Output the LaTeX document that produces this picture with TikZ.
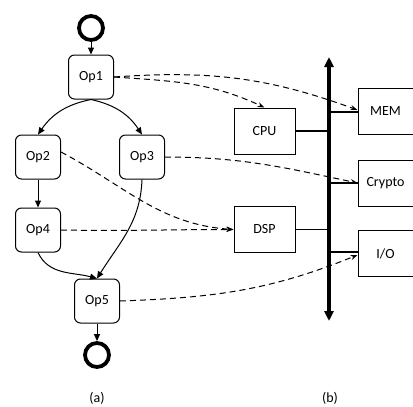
\documentclass[tikz,border=0pt]{standalone}
\usepackage{fontspec}
\setmainfont{Carlito}
\usetikzlibrary{arrows.meta}
\begin{document}
\begin{tikzpicture}[x=1pt,y=-1pt,
  op/.style={draw,line width=1pt,rounded corners=6pt,minimum width=45pt,minimum height=44pt,inner sep=0pt,font=\fontsize{14}{16}\selectfont},
  unit/.style={draw,line width=1pt,minimum height=46pt,inner sep=0pt,font=\fontsize{14}{16}\selectfont},
  term/.style={circle,draw,line width=3.8pt,minimum size=24pt,inner sep=0pt},
  flow/.style={-{Triangle[length=7pt,width=6pt]},line width=1pt},
  map/.style={-{Stealth[length=7pt,width=5pt]},dashed,dash pattern=on 6pt off 4pt,line width=1pt}]
\useasboundingbox (0,0) rectangle (413,407);
% task graph
\node[term] (start) at (91,28) {};
\node[op] (op1) at (91,77) {Op1};
\node[op] (op2) at (38,157) {Op2};
\node[op] (op3) at (142,157) {Op3};
\node[op] (op4) at (38,230) {Op4};
\node[op] (op5) at (97,301) {Op5};
\node[term] (stop) at (97,355) {};
\draw[flow] (start) -- (op1);
\draw[flow] (op1.south) to[bend right=22] (op2.north);
\draw[flow] (op1.south) to[bend left=22] (op3.north);
\draw[flow] (op2) -- (op4);
\draw[flow] (op4.south) to[out=-65,in=165] (op5.north);
\draw[flow] (op3.south) to[out=-92,in=58] (op5.north);
\draw[flow] (op5) -- (stop);
% platform
\node[unit,minimum width=61pt] (cpu) at (264.5,131) {CPU};
\node[unit,minimum width=61pt] (dsp) at (264.5,229.5) {DSP};
\node[unit,minimum width=55pt] (mem) at (385.5,111) {MEM};
\node[unit,minimum width=55pt] (crypto) at (385.5,183) {Crypto};
\node[unit,minimum width=55pt] (io) at (385.5,253.5) {I/O};
\coordinate (bustop) at (329,57);
\coordinate (busbot) at (329,321);
\draw[{Triangle[length=10pt,width=9pt]}-{Triangle[length=10pt,width=9pt]},line width=3.8pt] (bustop) -- (busbot);
\draw[line width=1.5pt] (cpu.east) -- (cpu.east -| bustop);
\draw[line width=1.5pt] (dsp.east) -- (dsp.east -| bustop);
\foreach \u/\y in {mem/112, crypto/183, io/252}
  \draw[line width=1.5pt] (bustop |- {0,\y}) -- (\u.west |- {0,\y});
% mapping
\draw[map] (op1.east) to[out=4,in=160] ([yshift=1pt]mem.west);
\draw[map] (op1.east) to[out=-4,in=155] (cpu.north);
\draw[map] (op3.east) to[out=0,in=168] (crypto.west);
\draw[map] ([yshift=5pt]op2.east) to[out=-28,in=176] (dsp.west);
\draw[map] (op4.east) to[out=-1,in=180] (dsp.west);
\draw[map] (op5.east) to[out=2,in=-158] ([yshift=-1.5pt]io.west);
\node[font=\fontsize{14}{16}\selectfont] (la) at (97,398) {(a)};
\node[font=\fontsize{14}{16}\selectfont] (lb) at (330,398) {(b)};
\end{tikzpicture}
\end{document}
